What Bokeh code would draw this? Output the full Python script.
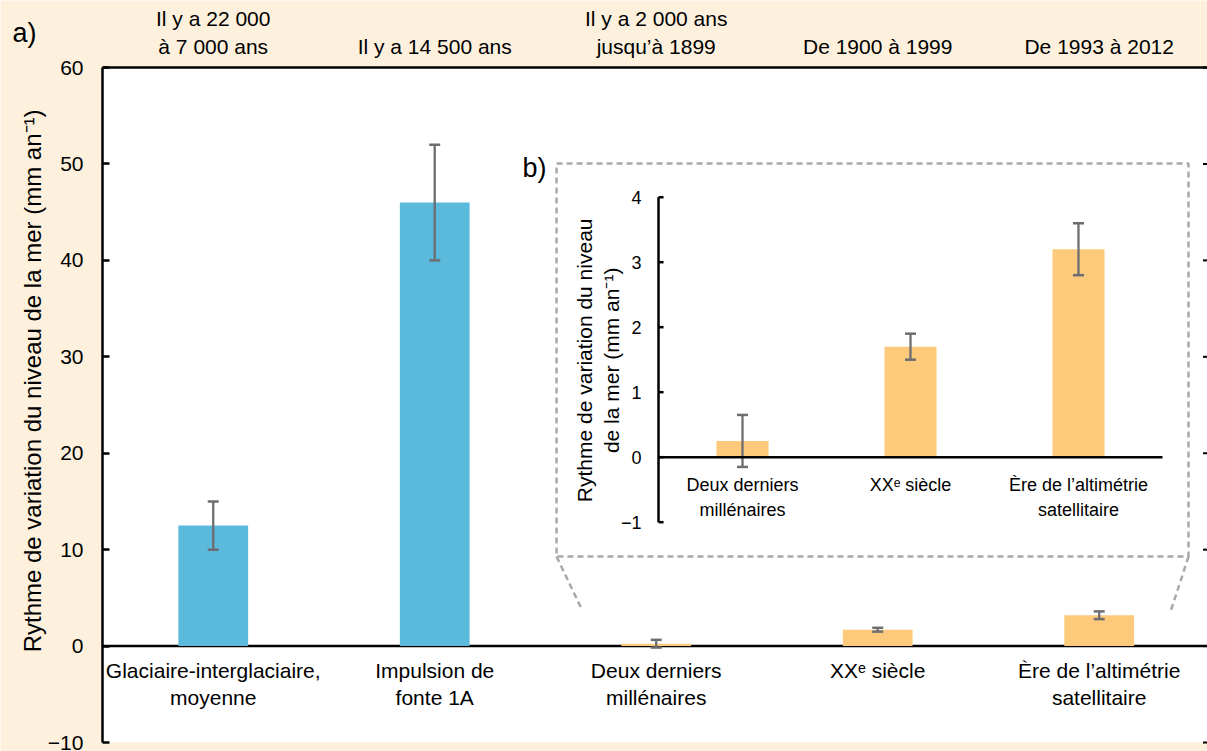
from bokeh.plotting import figure
from bokeh.models import Range1d, FixedTicker, BoxAnnotation
from bokeh.core.properties import value
from bokeh.embed import file_html
from bokeh.resources import INLINE
import math

FONT = "Liberation Sans"

# ---------------- data ----------------
main_x = [0, 1, 2, 3, 4]
main_cats = ["Glaciaire-interglaciaire,\nmoyenne", "Impulsion de\nfonte 1A",
             "Deux derniers\nmillénaires", "XXᵉ siècle",
             "Ère de l’altimétrie\nsatellitaire"]
periods = ["Il y a 22 000\nà 7 000 ans", "Il y a 14 500 ans",
           "Il y a 2 000 ans\njusqu’à 1899", "De 1900 à 1999", "De 1993 à 2012"]
main_rate = [12.5, 46.0, 0.25, 1.7, 3.2]
main_lo = [10.0, 40.0, -0.15, 1.5, 2.8]
main_hi = [15.0, 52.0, 0.65, 1.9, 3.6]
main_colors = ["#5BBADB", "#5BBADB", "#FDC97A", "#FDC97A", "#FDC97A"]
y_ticks = [-10, 0, 10, 20, 30, 40, 50, 60]
y_title = "Rythme de variation du niveau de la mer (mm an⁻¹)"

inset_x = [0, 1, 2]
inset_cats = ["Deux derniers\nmillénaires", "XXᵉ siècle",
              "Ère de l’altimétrie\nsatellitaire"]
inset_rate = [0.25, 1.7, 3.2]
inset_lo = [-0.15, 1.5, 2.8]
inset_hi = [0.65, 1.9, 3.6]
inset_ticks = [-1, 0, 1, 2, 3, 4]
inset_tick_labels = ["−1", "0", "1", "2", "3", "4"]
inset_title = "Rythme de variation du niveau\nde la mer (mm an⁻¹)"

GRAY = "#6D6E71"
DASH_GRAY = "#A7A9AC"
CREAM = "#FDF1DE"

# ---------------- figure (frame = whole canvas) ----------------
X0, X_END = -0.9605, 4.489
Y0, Y_END = -10.93, 66.95
p = figure(width=1207, height=751,
           x_range=Range1d(X0, X_END), y_range=Range1d(Y0, Y_END),
           x_axis_location="above",
           output_backend="svg", toolbar_location=None,
           min_border_left=0, min_border_right=0,
           min_border_top=0, min_border_bottom=0,
           background_fill_color=CREAM, border_fill_color=CREAM,
           outline_line_color=None)
p.grid.visible = False

# white plotting area
p.add_layout(BoxAnnotation(left=-0.5, bottom=y_ticks[0], top=y_ticks[-1],
                           fill_color="white", fill_alpha=1, line_color=None,
                           level="underlay"))

# inset coordinate system mapped over the whole canvas
p.extra_x_ranges = {"ix": Range1d(-4.417, 2.768)}
p.extra_y_ranges = {"iy": Range1d(-4.528, 7.026)}

# top axis (periods)
ax = p.xaxis[0]
ax.fixed_location = y_ticks[-1]
ax.bounds = (-0.5, X_END)
ax.ticker = FixedTicker(ticks=main_x)
ax.major_label_overrides = {i: periods[i] for i in main_x}
ax.major_tick_in = 0
ax.major_tick_out = 0
ax.minor_tick_in = 0
ax.minor_tick_out = 0
ax.axis_line_width = 2.5
ax.axis_line_color = "black"
ax.major_label_text_font = FONT
ax.major_label_text_font_size = "21px"
ax.major_label_text_color = "black"
ax.major_label_standoff = 10

# left axis
ya = p.yaxis[0]
ya.fixed_location = -0.5
ya.bounds = (y_ticks[0], y_ticks[-1])
ya.ticker = FixedTicker(ticks=y_ticks)
ya.major_label_overrides = {-10: "−10"}
ya.major_tick_in = 7
ya.major_tick_out = 0
ya.minor_tick_in = 0
ya.minor_tick_out = 0
ya.axis_line_width = 2.5
ya.major_tick_line_width = 2.5
ya.major_label_text_font = FONT
ya.major_label_text_font_size = "21px"
ya.major_label_text_color = "black"
ya.major_label_standoff = 19

# y-axis title
p.text(x=[-0.814], y=[27.5], text=[y_title], angle=math.pi / 2,
       text_font=value(FONT), text_font_size="24px", text_align="center",
       text_baseline="middle", text_color="black")

# right-edge ticks
p.scatter(x=[X_END] * len(y_ticks), y=y_ticks, marker="dash", size=9,
          line_color="black", line_width=2)

# zero line main
p.segment(x0=[-0.5], y0=[0], x1=[X_END], y1=[0], line_color="black", line_width=2.5)

# ---------------- main bars ----------------
p.vbar(x=main_x, top=main_rate, width=0.315, fill_color=main_colors, line_color=None)
p.segment(x0=main_x, y0=main_lo, x1=main_x, y1=main_hi, line_color=GRAY, line_width=2.3)
p.scatter(x=main_x + main_x, y=main_lo + main_hi, marker="dash", size=11,
          line_color=GRAY, line_width=2.5)
p.text(x=main_x, y=[-1.3] * 5, text=main_cats, text_font=value(FONT),
       text_font_size="21px", text_align="center", text_baseline="top",
       text_line_height=1.2, text_color="black")

# ---------------- inset ----------------
R = dict(x_range_name="ix", y_range_name="iy")
# connector frame
p.line(x=[-1.107, 2.655, 2.655, -1.107, -1.107], y=[4.518, 4.518, -1.528, -1.528, 4.518],
       line_color=DASH_GRAY, line_width=2.5, line_dash="6 4", **R)
p.line(x=[-1.107, -0.955], y=[-1.528, -2.35], line_color=DASH_GRAY, line_width=2.5,
       line_dash="6 4", **R)
p.line(x=[2.655, 2.545], y=[-1.528, -2.40], line_color=DASH_GRAY, line_width=2.5,
       line_dash="6 4", **R)

p.vbar(x=inset_x, top=inset_rate, width=0.31, fill_color="#FDC97A", line_color=None, **R)
p.segment(x0=inset_x, y0=inset_lo, x1=inset_x, y1=inset_hi, line_color=GRAY,
          line_width=2.3, **R)
p.scatter(x=inset_x + inset_x, y=inset_lo + inset_hi, marker="dash", size=11,
          line_color=GRAY, line_width=2.5, **R)
# inset axes
p.segment(x0=[-0.5], y0=[inset_ticks[0]], x1=[-0.5], y1=[inset_ticks[-1]],
          line_color="black", line_width=2.5, **R)
p.segment(x0=[-0.5], y0=[0], x1=[2.5], y1=[0], line_color="black", line_width=2.5, **R)
p.segment(x0=[-0.5] * 6, y0=inset_ticks, x1=[-0.47] * 6, y1=inset_ticks,
          line_color="black", line_width=2.5, **R)
p.text(x=[-0.5] * 6, y=inset_ticks, text=inset_tick_labels, x_offset=-17,
       text_font=value(FONT), text_font_size="18px", text_align="right",
       text_baseline="middle", text_color="black", **R)
p.text(x=inset_x, y=[-0.28] * 3, text=inset_cats, text_font=value(FONT),
       text_font_size="18px", text_align="center", text_baseline="top",
       text_line_height=1.25, text_color="black", **R)
p.text(x=[-0.86], y=[1.49], text=[inset_title],
       angle=math.pi / 2, text_font=value(FONT), text_font_size="21px",
       text_align="center", text_baseline="middle", text_line_height=1.15,
       text_color="black", **R)

# panel letters
p.text(x=[-0.906], y=[63.53], text=["a)"], text_font=value(FONT), text_font_size="27px",
       text_align="left", text_baseline="alphabetic", text_color="black")
p.text(x=[1.396], y=[49.53], text=["b)"], text_font=value(FONT), text_font_size="27px",
       text_align="left", text_baseline="alphabetic", text_color="black")

open("out.html", "w").write(file_html(p, INLINE))
